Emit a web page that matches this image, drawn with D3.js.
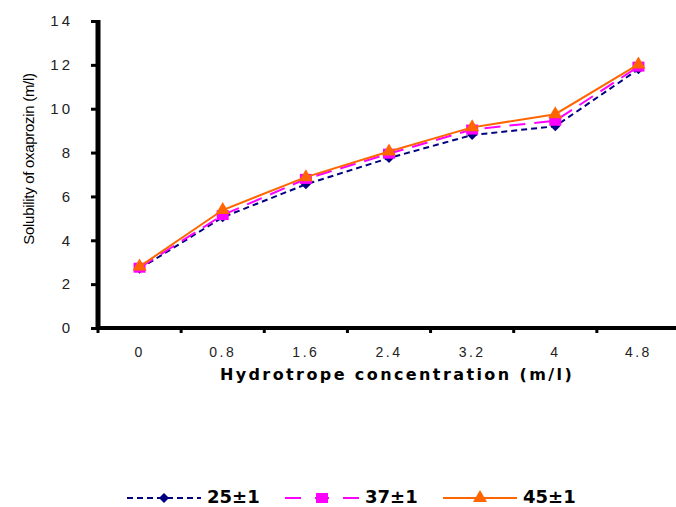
<!DOCTYPE html>
<html>
<head>
<meta charset="utf-8">
<script src="https://cdn.jsdelivr.net/npm/d3@7"></script>
<style>
  body { margin: 0; background: #fff; }
  svg { display: block; }
</style>
</head>
<body>
<svg id="chart"></svg>
<script>
// concentration categories and solubility per temperature
var categories = ["0", "0.8", "1.6", "2.4", "3.2", "4", "4.8"];
var series25 = [2.7, 5.05, 6.55, 7.75, 8.8, 9.2, 11.8];
var series37 = [2.75, 5.15, 6.8, 7.95, 9.05, 9.45, 11.92];
var series45 = [2.8, 5.38, 6.88, 8.05, 9.15, 9.75, 12.02];
var yTicks = [0, 2, 4, 6, 8, 10, 12, 14];
var seriesNames = ["25\u00b11", "37\u00b11", "45\u00b11"];

var width = 676, height = 507;
var margin = {top: 21, left: 98, bottom: 328, right: 680};

var svg = d3.select("#chart")
    .attr("width", width)
    .attr("height", height);

svg.append("rect").attr("width", width).attr("height", height).attr("fill", "#fff");

var x = d3.scaleBand()
    .domain(categories)
    .range([margin.left, margin.right])
    .padding(0);
var y = d3.scaleLinear()
    .domain([0, 14])
    .range([margin.bottom, margin.top]);

// y axis
var yAxis = svg.append("g")
    .attr("transform", "translate(" + margin.left + ",0)")
    .call(d3.axisLeft(y).tickValues(yTicks).tickSize(5).tickPadding(20));
yAxis.select(".domain").attr("stroke-width", 5).attr("d", "M0," + (margin.top - 1) + "V" + (margin.bottom + 1));
yAxis.selectAll(".tick line").attr("stroke-width", 3).attr("x1", 0).attr("x2", -7);
yAxis.selectAll("text")
    .style("font-family", "Liberation Sans, Arial, sans-serif")
    .style("font-size", "15px")
    .style("letter-spacing", "3px")
    .attr("fill", "#222");

// x axis (labels in band centres, tick marks at band edges)
var xAxis = svg.append("g")
    .attr("transform", "translate(0," + margin.bottom + ")")
    .call(d3.axisBottom(x).tickSize(0).tickPadding(19));
xAxis.select(".domain").attr("stroke-width", 4).attr("d", "M" + (margin.left - 2) + ",0H" + width);
xAxis.selectAll("text")
    .style("font-family", "Liberation Sans, Arial, sans-serif")
    .style("font-size", "14px")
    .style("letter-spacing", "2.5px")
    .attr("fill", "#222");
xAxis.selectAll(".edge")
    .data(categories)
    .enter().append("line")
    .attr("x1", function (d) { return x(d); })
    .attr("x2", function (d) { return x(d); })
    .attr("y1", 0)
    .attr("y2", 5)
    .attr("stroke", "#000")
    .attr("stroke-width", 3);

// axis titles
svg.append("text")
    .attr("x", 397)
    .attr("y", 380)
    .attr("text-anchor", "middle")
    .style("font-family", "DejaVu Sans, Verdana, sans-serif")
    .style("font-size", "16px")
    .style("font-weight", "bold")
    .style("letter-spacing", "2.4px")
    .text("Hydrotrope concentration (m/l)");

svg.append("text")
    .attr("transform", "translate(34,159) rotate(-90)")
    .attr("text-anchor", "middle")
    .style("font-family", "Liberation Sans, Arial, sans-serif")
    .style("font-size", "15px")
    .style("letter-spacing", "-0.3px")
    .text("Solubility of oxaprozin (m/l)");

var cx = function (i) { return x(categories[i]) + x.bandwidth() / 2; };

var line = d3.line()
    .x(function (d, i) { return cx(i); })
    .y(function (d) { return y(d); });

var styles = [
    {data: series25, color: "#000080", dash: "6,4", width: 2},
    {data: series37, color: "#ff00ff", dash: "16,9", width: 2},
    {data: series45, color: "#ff6600", dash: null, width: 2}
];

function marker(g, k, px, py) {
    if (k === 0) {
        g.append("path")
            .attr("d", "M" + px + "," + (py - 5) + "L" + (px + 5) + "," + py + "L" + px + "," + (py + 5) + "L" + (px - 5) + "," + py + "Z")
            .attr("fill", styles[0].color);
    } else if (k === 1) {
        g.append("rect")
            .attr("x", px - 6).attr("y", py - 5)
            .attr("width", 12).attr("height", 10)
            .attr("fill", styles[1].color);
    } else {
        g.append("path")
            .attr("d", "M" + px + "," + (py - 8) + "L" + (px + 7) + "," + (py + 4) + "L" + (px - 7) + "," + (py + 4) + "Z")
            .attr("fill", styles[2].color);
    }
}

styles.forEach(function (s, k) {
    var g = svg.append("g");
    g.append("path")
        .datum(s.data)
        .attr("d", line)
        .attr("fill", "none")
        .attr("stroke", s.color)
        .attr("stroke-width", s.width)
        .attr("stroke-dasharray", s.dash);
    s.data.forEach(function (v, i) {
        marker(g, k, cx(i), y(v));
    });
});

// legend
var legendX = [127, 285, 443];
var legendY = 498;
styles.forEach(function (s, k) {
    var g = svg.append("g");
    var x0 = legendX[k];
    g.append("line")
        .attr("x1", x0).attr("x2", x0 + 74)
        .attr("y1", legendY).attr("y2", legendY)
        .attr("stroke", s.color)
        .attr("stroke-width", 2)
        .attr("stroke-dasharray", k === 1 ? "16,14,14,14" : s.dash);
    marker(g, k, x0 + 37, legendY);
    g.append("text")
        .attr("x", x0 + 80)
        .attr("y", legendY + 5)
        .style("font-family", "DejaVu Sans, Verdana, sans-serif")
        .style("font-size", "18px")
        .style("font-weight", "bold")
        .text(seriesNames[k]);
});
</script>
</body>
</html>
